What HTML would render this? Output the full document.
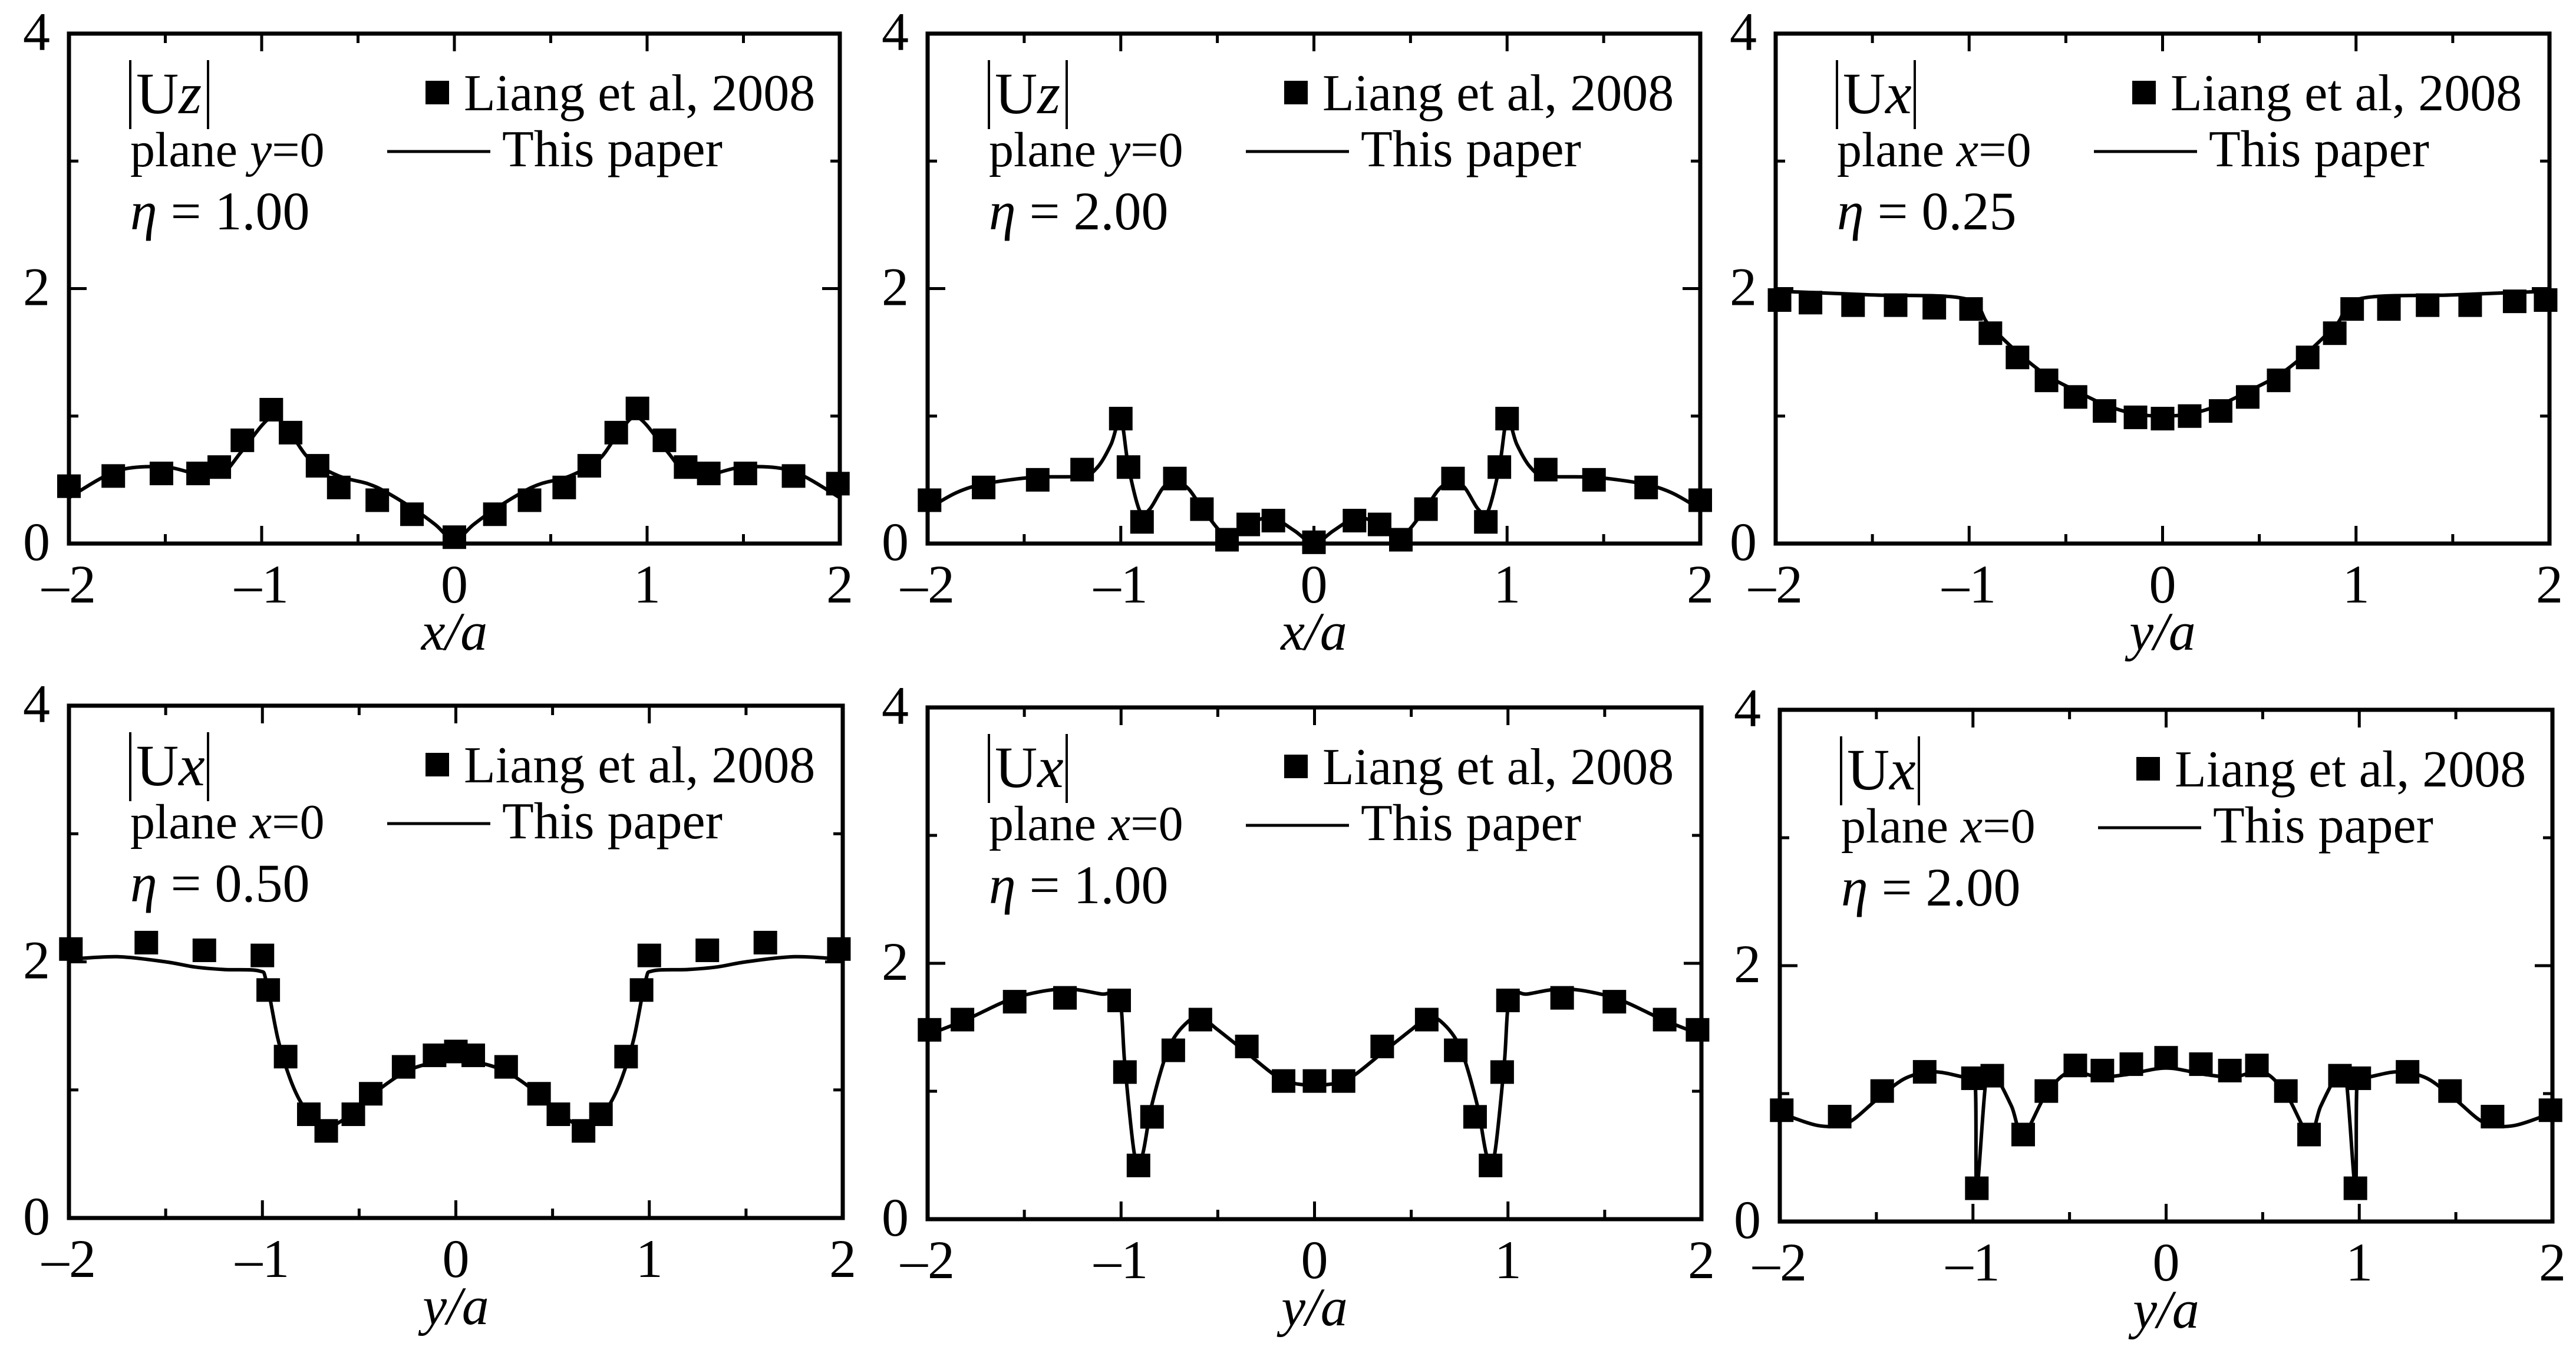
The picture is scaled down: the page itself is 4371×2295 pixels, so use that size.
<!DOCTYPE html>
<html><head><meta charset="utf-8"><style>
html,body{margin:0;padding:0;background:#fff;}
svg{display:block;}
text{font-family:"Liberation Serif",serif;fill:#000;}
</style></head><body>
<svg id="fig" width="4371" height="2295" viewBox="0 0 4371 2295" xmlns="http://www.w3.org/2000/svg" font-family="'Liberation Serif', serif"></svg>
<script>
// ---- data ----
const xTicks=[-2,-1,0,1,2];
const yTicks=[0,2,4];
const p1MarkX=[-2,-1.77,-1.52,-1.33,-1.22,-1.1,-0.95,-0.85,-0.71,-0.6,-0.4,-0.22,0,0.21,0.39,0.57,0.7,0.84,0.95,1.09,1.2,1.32,1.51,1.76,1.99];
const p1MarkY=[0.45,0.53,0.55,0.55,0.6,0.81,1.05,0.87,0.61,0.44,0.34,0.23,0.05,0.23,0.34,0.44,0.61,0.87,1.06,0.81,0.6,0.55,0.55,0.53,0.47];
const p1LineX=[-2,-1.75,-1.5,-1.3,-1.2,-1.1,-0.95,-0.85,-0.75,-0.6,-0.45,-0.35,-0.2,-0.1,0,0.1,0.2,0.35,0.45,0.6,0.75,0.85,0.95,1.1,1.2,1.3,1.5,1.75,2];
const p1LineY=[0.36,0.57,0.6,0.53,0.55,0.73,0.99,0.86,0.66,0.53,0.47,0.4,0.26,0.15,0.03,0.15,0.26,0.4,0.47,0.53,0.66,0.86,0.99,0.73,0.55,0.53,0.6,0.57,0.36];

const p2MarkX=[-1.99,-1.71,-1.43,-1.2,-1.0,-0.96,-0.89,-0.72,-0.58,-0.45,-0.34,-0.21,0,0.21,0.34,0.45,0.58,0.72,0.89,0.96,1.0,1.2,1.45,1.72,2];
const p2MarkY=[0.34,0.44,0.5,0.58,0.98,0.6,0.17,0.51,0.27,0.03,0.15,0.18,0.01,0.18,0.15,0.03,0.27,0.51,0.17,0.6,0.98,0.58,0.5,0.44,0.34];
const p2LineX=[-2,-1.85,-1.7,-1.45,-1.2,-1.12,-1.05,-1.0,-0.96,-0.9,-0.85,-0.78,-0.72,-0.65,-0.58,-0.5,-0.45,-0.4,-0.3,-0.21,-0.1,0,0.1,0.21,0.3,0.4,0.45,0.5,0.58,0.65,0.72,0.78,0.85,0.9,0.96,1.0,1.05,1.12,1.2,1.45,1.7,1.85,2];
const p2LineY=[0.27,0.4,0.47,0.52,0.53,0.6,0.78,0.98,0.6,0.25,0.27,0.44,0.49,0.43,0.28,0.12,0.05,0.1,0.18,0.2,0.1,0.0,0.1,0.2,0.18,0.1,0.05,0.12,0.28,0.43,0.49,0.44,0.27,0.25,0.6,0.98,0.78,0.6,0.53,0.52,0.47,0.4,0.27];

const p3MarkX=[-1.98,-1.82,-1.6,-1.38,-1.18,-0.99,-0.89,-0.75,-0.6,-0.45,-0.3,-0.14,0,0.14,0.3,0.44,0.6,0.75,0.89,0.98,1.17,1.37,1.59,1.82,1.98];
const p3MarkY=[1.91,1.89,1.87,1.87,1.85,1.84,1.65,1.46,1.28,1.15,1.04,0.99,0.98,1.0,1.04,1.15,1.28,1.46,1.65,1.84,1.84,1.87,1.87,1.9,1.91];
const p3LineX=[-2,-1.5,-1.02,-0.9,-0.75,-0.6,-0.45,-0.3,-0.15,0,0.15,0.3,0.45,0.6,0.75,0.9,1.02,1.5,2];
const p3LineY=[1.98,1.95,1.92,1.72,1.5,1.32,1.2,1.09,1.02,1.0,1.02,1.09,1.2,1.32,1.5,1.72,1.92,1.95,1.98];

const p4MarkX=[-1.99,-1.6,-1.3,-1.0,-0.97,-0.88,-0.76,-0.67,-0.53,-0.44,-0.27,-0.11,0,0.09,0.26,0.43,0.53,0.66,0.75,0.88,0.96,1.0,1.3,1.6,1.98];
const p4MarkY=[2.1,2.15,2.09,2.05,1.78,1.26,0.81,0.68,0.81,0.97,1.18,1.27,1.3,1.27,1.18,0.97,0.81,0.68,0.81,1.26,1.78,2.05,2.09,2.15,2.1];
const p4LineX=[-2,-1.75,-1.5,-1.35,-1.2,-1.02,-0.98,-0.92,-0.86,-0.8,-0.72,-0.67,-0.55,-0.4,-0.25,-0.1,0,0.1,0.25,0.4,0.55,0.67,0.72,0.8,0.86,0.92,0.98,1.02,1.2,1.35,1.5,1.75,2];
const p4LineY=[2.02,2.04,2.0,1.96,1.94,1.93,1.85,1.4,1.1,0.9,0.74,0.7,0.8,1.0,1.15,1.22,1.24,1.22,1.15,1.0,0.8,0.7,0.74,0.9,1.1,1.4,1.85,1.93,1.94,1.96,2.0,2.04,2.02];

const p5MarkX=[-1.99,-1.82,-1.55,-1.29,-1.01,-0.98,-0.91,-0.84,-0.73,-0.59,-0.35,-0.16,0,0.15,0.35,0.58,0.73,0.83,0.91,0.97,1.0,1.28,1.55,1.81,1.98];
const p5MarkY=[1.48,1.56,1.7,1.73,1.71,1.15,0.42,0.8,1.32,1.56,1.35,1.08,1.08,1.08,1.35,1.56,1.32,0.8,0.42,1.15,1.71,1.73,1.7,1.56,1.48];
const p5LineX=[-2,-1.8,-1.55,-1.3,-1.1,-1.01,-0.98,-0.93,-0.89,-0.84,-0.75,-0.65,-0.58,-0.5,-0.35,-0.2,-0.1,0,0.1,0.2,0.35,0.5,0.58,0.65,0.75,0.84,0.89,0.93,0.98,1.01,1.1,1.3,1.55,1.8,2];
const p5LineY=[1.44,1.56,1.73,1.8,1.76,1.74,1.2,0.5,0.5,0.9,1.35,1.55,1.57,1.48,1.3,1.12,1.06,1.05,1.06,1.12,1.3,1.48,1.57,1.55,1.35,0.9,0.5,0.5,1.2,1.74,1.76,1.8,1.73,1.56,1.44];

const p6MarkX=[-1.99,-1.69,-1.47,-1.25,-1.0,-0.98,-0.9,-0.74,-0.62,-0.47,-0.33,-0.18,0,0.18,0.33,0.47,0.62,0.74,0.9,0.98,1.0,1.25,1.47,1.69,1.99];
const p6MarkY=[0.87,0.82,1.02,1.17,1.12,0.26,1.14,0.68,1.02,1.22,1.18,1.23,1.28,1.23,1.18,1.22,1.02,0.68,1.14,0.26,1.12,1.17,1.02,0.82,0.87];
const p6LineX=[-2,-1.8,-1.65,-1.5,-1.35,-1.2,-1.05,-0.99,-0.98,-0.93,-0.88,-0.8,-0.74,-0.62,-0.5,-0.35,-0.2,0,0.2,0.35,0.5,0.62,0.74,0.8,0.88,0.93,0.98,0.99,1.05,1.2,1.35,1.5,1.65,1.8,2];
const p6LineY=[0.85,0.75,0.77,0.95,1.12,1.17,1.13,1.12,0.26,1.14,1.13,0.9,0.68,1.0,1.17,1.13,1.15,1.2,1.15,1.13,1.17,1.0,0.68,0.9,1.13,1.14,0.26,1.12,1.13,1.17,1.12,0.95,0.77,0.75,0.85];

// ---- layout ----
const panels=[
 {x0:117,x1:1425,y0:57,y1:922,mx:p1MarkX,my:p1MarkY,lx:p1LineX,ly:p1LineY,comp:'z',plane:'y',eta:'1.00',xl:'x'},
 {x0:1574,x1:2885,y0:57,y1:922,mx:p2MarkX,my:p2MarkY,lx:p2LineX,ly:p2LineY,comp:'z',plane:'y',eta:'2.00',xl:'x'},
 {x0:3013,x1:4326,y0:57,y1:922,mx:p3MarkX,my:p3MarkY,lx:p3LineX,ly:p3LineY,comp:'x',plane:'x',eta:'0.25',xl:'y'},
 {x0:117,x1:1430,y0:1197,y1:2066,mx:p4MarkX,my:p4MarkY,lx:p4LineX,ly:p4LineY,comp:'x',plane:'x',eta:'0.50',xl:'y'},
 {x0:1574,x1:2887,y0:1200,y1:2068,mx:p5MarkX,my:p5MarkY,lx:p5LineX,ly:p5LineY,comp:'x',plane:'x',eta:'1.00',xl:'y'},
 {x0:3020,x1:4331,y0:1204,y1:2072,mx:p6MarkX,my:p6MarkY,lx:p6LineX,ly:p6LineY,comp:'x',plane:'x',eta:'2.00',xl:'y'}
];
const NS='http://www.w3.org/2000/svg';
const svg=document.getElementById('fig');
function mk(tag,attrs,parent){const e=document.createElementNS(NS,tag);for(const k in attrs)e.setAttribute(k,attrs[k]);(parent||svg).appendChild(e);return e;}
function spline(pts){
  let d='M'+pts[0][0].toFixed(1)+','+pts[0][1].toFixed(1);
  for(let i=0;i<pts.length-1;i++){
    const p0=pts[Math.max(0,i-1)],p1=pts[i],p2=pts[i+1],p3=pts[Math.min(pts.length-1,i+2)];
    const t=0.16;
    const c1=[p1[0]+(p2[0]-p0[0])*t,p1[1]+(p2[1]-p0[1])*t];
    const c2=[p2[0]-(p3[0]-p1[0])*t,p2[1]-(p3[1]-p1[1])*t];
    d+='C'+c1[0].toFixed(1)+','+c1[1].toFixed(1)+' '+c2[0].toFixed(1)+','+c2[1].toFixed(1)+' '+p2[0].toFixed(1)+','+p2[1].toFixed(1);
  }
  return d;
}
const FF="'Liberation Serif', serif";
panels.forEach((P,pi)=>{
  const g=mk('g',{'font-family':FF});
  
  
  const sx=v=>P.x0+(v+2)/4*(P.x1-P.x0);
  const sy=v=>P.y1-v/4*(P.y1-P.y0);
  for(let v=-2;v<=2.001;v+=0.5){
    const len=Math.abs(v-Math.round(v))<1e-6?30:16;
    const t1=mk('line',{x1:sx(v),x2:sx(v),y1:P.y1,y2:P.y1-len,stroke:'#000','stroke-width':5},g);
    
    
    const t2=mk('line',{x1:sx(v),x2:sx(v),y1:P.y0,y2:P.y0+len,stroke:'#000','stroke-width':5},g);
    
    
  }
  for(let v=0;v<=4;v++){
    const len=v%2===0?30:16;
    const a=mk('line',{x1:P.x0,x2:P.x0+len,y1:sy(v),y2:sy(v),stroke:'#000','stroke-width':5},g);
    
    
    const b=mk('line',{x1:P.x1,x2:P.x1-len,y1:sy(v),y2:sy(v),stroke:'#000','stroke-width':5},g);
    
    
  }
  xTicks.forEach(v=>{
    const t=mk('text',{x:sx(v),y:P.y1+100,'font-size':92,'text-anchor':'middle','font-family':FF},g);
    t.textContent=v<0?'\u2013'+(-v):String(v);
    
    
  });
  yTicks.forEach(v=>{
    const t=mk('text',{x:P.x0-55,y:sy(v)+28,'font-size':92,'text-anchor':'middle','font-family':FF},g);
    t.textContent=String(v);
    
    
  });
  const xt=mk('text',{x:(P.x0+P.x1)/2,y:P.y1+180,'font-size':92,'text-anchor':'middle','font-style':'italic','font-family':FF},g);
  xt.textContent=P.xl+'/a';
  
  
  const pts=P.lx.map((v,i)=>[sx(v),sy(P.ly[i])]);
  const ln=mk('path',{d:spline(pts),fill:'none',stroke:'#000','stroke-width':6,'stroke-linejoin':'round'},g);
  
  
  P.mx.forEach((v,i)=>{
    const r=mk('rect',{x:sx(v)-20,y:sy(P.my[i])-20,width:40,height:40,fill:'#000'},g);
    
    
  });
  const fr=mk('rect',{x:P.x0,y:P.y0,width:P.x1-P.x0,height:P.y1-P.y0,fill:'none',stroke:'#000','stroke-width':7},g);
  
  
  // annotations
  const ax=P.x0+104, ty=P.y0-30;
  const b1=mk('line',{x1:ax,x2:ax,y1:ty+75,y2:ty+192,stroke:'#000','stroke-width':4},g);
  
  
  const ut=mk('text',{x:ax+10,y:ty+165,'font-size':100,'font-family':FF},g);
  
  
  ut.innerHTML='U<tspan font-style="italic">'+P.comp+'</tspan>';
  const b2=mk('line',{x1:ax+132,x2:ax+132,y1:ty+75,y2:ty+192,stroke:'#000','stroke-width':4},g);
  
  
  const pl=mk('text',{x:ax,y:ty+255,'font-size':84,'font-family':FF},g);
  
  
  pl.innerHTML='plane <tspan font-style="italic">'+P.plane+'</tspan>=0';
  const et=mk('text',{x:ax,y:ty+362,'font-size':92,'font-family':FF},g);
  
  
  et.innerHTML='<tspan font-style="italic">\u03b7</tspan> = '+P.eta;
  const lm=mk('rect',{x:P.x0+605,y:ty+110,width:40,height:40,fill:'#000'},g);
  
  
  const lt=mk('text',{x:P.x0+670,y:ty+160,'font-size':88,'font-family':FF},g);
  lt.textContent='Liang et al, 2008';
  
  
  const ll=mk('line',{x1:P.x0+540,x2:P.x0+715,y1:ty+230,y2:ty+230,stroke:'#000','stroke-width':5},g);
  
  
  const lt2=mk('text',{x:P.x0+735,y:ty+255,'font-size':88,'font-family':FF},g);
  lt2.textContent='This paper';
  
  
});
</script>
</body></html>
